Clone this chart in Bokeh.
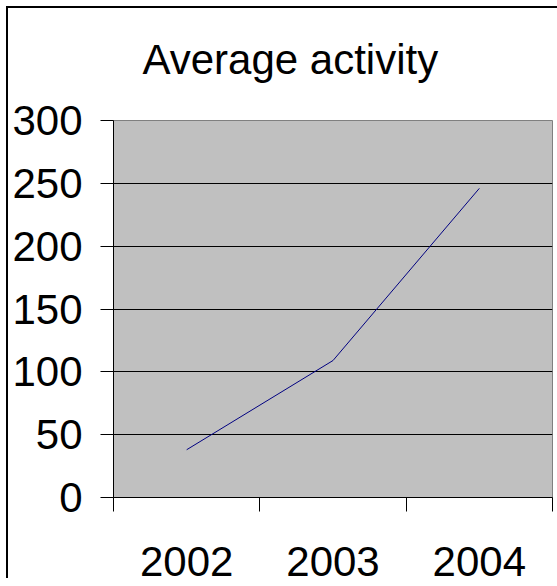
from bokeh.plotting import figure
from bokeh.models import Range1d, FixedTicker, CustomJSTickFormatter, LinearAxis
from bokeh.embed import file_html
from bokeh.resources import INLINE

# Data
years = ["2002", "2003", "2004"]
activity = [38, 109, 246]
y_ticks = [0, 50, 100, 150, 200, 250, 300]

FONT = "Liberation Sans"
SIZE = "42px"

x_pos = [i + 0.5 for i in range(len(years))]
x_bounds = list(range(len(years) + 1))

p = figure(
    frame_width=439, frame_height=377,
    output_backend="svg", toolbar_location=None,
    x_range=Range1d(0, len(years)), y_range=Range1d(0, 300),
    min_border_left=105, min_border_right=5,
    min_border_top=112, min_border_bottom=0,
    title="Average activity",
)
p.margin = (6, 0, 0, 6)
p.styles = {"border-left": "2px solid black", "border-top": "2px solid black"}

p.background_fill_color = "#C0C0C0"
p.border_fill_color = "white"
p.outline_line_color = "#808080"

# title, lifted clear of the plot area
p.title.text_font = FONT
p.title.text_font_size = SIZE
p.title.text_font_style = "normal"
p.title.text_color = "black"
p.title.align = "left"
p.title.offset = 29
p.title.standoff = 0
try:
    p.title.padding = dict(left=0, right=0, top=0, bottom=38)
except Exception:
    gap = LinearAxis(
        ticker=FixedTicker(ticks=[1.5]), major_label_overrides={1.5: ""},
        major_label_text_font_size="0px", axis_line_color=None,
        major_tick_line_color=None, minor_tick_line_color=None,
        major_tick_out=38, major_tick_in=0, major_label_standoff=0,
    )
    p.add_layout(gap, "above")

# y axis
p.yaxis.ticker = FixedTicker(ticks=y_ticks)
p.yaxis.major_label_text_font = FONT
p.yaxis.major_label_text_font_size = SIZE
p.yaxis.major_label_text_color = "black"
p.yaxis.major_tick_out = 13
p.yaxis.major_tick_in = 0
p.yaxis.minor_tick_line_color = None
p.yaxis.major_label_standoff = 18
p.yaxis.axis_line_color = "black"
p.yaxis.major_tick_line_color = "black"

# x axis: labels centred in each slot, tick marks on the slot boundaries
xax = p.below[0]
xax.ticker = FixedTicker(ticks=x_pos, minor_ticks=x_bounds)
xax.formatter = CustomJSTickFormatter(
    args=dict(labels=years), code="return labels[Math.floor(tick)];"
)
xax.major_label_text_font = FONT
xax.major_label_text_font_size = SIZE
xax.major_label_text_color = "black"
xax.major_tick_line_color = None
xax.major_tick_out = 0
xax.major_tick_in = 0
xax.minor_tick_line_color = "black"
xax.minor_tick_out = 14
xax.minor_tick_in = 0
xax.major_label_standoff = 35
xax.axis_line_color = "black"

p.xgrid.grid_line_color = None
p.ygrid.ticker = FixedTicker(ticks=y_ticks)
p.ygrid.grid_line_color = "black"
p.ygrid.grid_line_width = 1

p.line(x_pos, activity, line_color="#000080", line_width=1)

open("out.html", "w").write(file_html(p, INLINE))
